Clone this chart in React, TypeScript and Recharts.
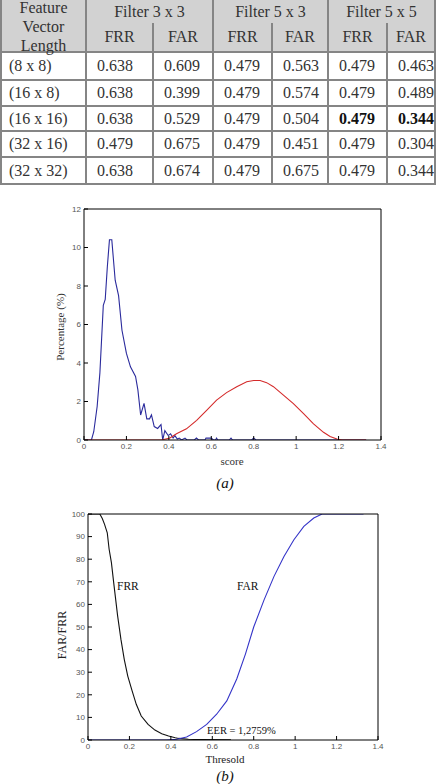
import React from 'react';
import { LineChart, Line, XAxis, YAxis, ReferenceDot } from 'recharts';

// ---------- Table data ----------
const vectorLengths = ['(8 x 8)', '(16 x 8)', '(16 x 16)', '(32 x 16)', '(32 x 32)'];
const filterNames = ['Filter 3 x 3', 'Filter 5 x 3', 'Filter 5 x 5'];
const subHeaders = ['FRR', 'FAR'];
const frr33 = [0.638, 0.638, 0.638, 0.479, 0.638];
const far33 = [0.609, 0.399, 0.529, 0.675, 0.674];
const frr53 = [0.479, 0.479, 0.479, 0.479, 0.479];
const far53 = [0.563, 0.574, 0.504, 0.451, 0.675];
const frr55 = [0.479, 0.479, 0.479, 0.479, 0.479];
const far55 = [0.463, 0.489, 0.344, 0.304, 0.344];
const boldRow = 2;

// ---------- Chart (a): score distributions ----------
const genuineX = [0, 0.035, 0.046, 0.062, 0.075, 0.091, 0.1, 0.11, 0.12, 0.131, 0.147, 0.163, 0.179, 0.2, 0.219, 0.243, 0.254, 0.267, 0.283, 0.296, 0.309, 0.318, 0.331, 0.347, 0.363, 0.371, 0.381, 0.397, 0.408, 0.42, 0.428, 0.44, 0.449, 0.46, 0.476, 0.485, 0.52, 0.53, 0.54, 0.57, 0.575, 0.6, 0.61, 0.62, 0.625, 0.63, 0.685, 0.693, 0.7, 0.79, 0.8, 0.81, 1.33];
const genuineY = [0, 0, 0.43, 1.74, 3.5, 7.0, 7.3, 9.0, 10.4, 10.4, 8.3, 7.5, 5.7, 4.5, 3.8, 3.3, 2.6, 1.3, 1.9, 1.1, 1.1, 1.3, 0.7, 0.6, 0.8, 0, 0.49, 0.23, 0.32, 0.1, 0.23, 0.05, 0.1, 0, 0.1, 0, 0, 0.1, 0, 0, 0.1, 0.1, 0, 0, 0.1, 0, 0, 0.1, 0, 0, 0.1, 0, 0];
const impostorX = [0, 0.334, 0.365, 0.405, 0.436, 0.483, 0.531, 0.578, 0.625, 0.672, 0.72, 0.767, 0.8, 0.83, 0.861, 0.893, 0.94, 0.987, 1.035, 1.082, 1.129, 1.16, 1.192, 1.216, 1.33];
const impostorY = [0, 0, 0, 0.1, 0.32, 0.58, 1.02, 1.54, 2.07, 2.46, 2.77, 3.03, 3.09, 3.09, 2.98, 2.77, 2.33, 1.89, 1.37, 0.84, 0.4, 0.18, 0.05, 0, 0];
const scoreTicks = [0, 0.2, 0.4, 0.6, 0.8, 1, 1.2, 1.4];
const percentTicks = [0, 2, 4, 6, 8, 10, 12];

// ---------- Chart (b): FAR / FRR ----------
const frrX = [0, 0.057, 0.069, 0.08, 0.093, 0.102, 0.113, 0.126, 0.143, 0.159, 0.175, 0.192, 0.213, 0.233, 0.257, 0.29, 0.323, 0.356, 0.389, 0.421, 0.437, 0.485, 0.55, 0.69];
const frrY = [100, 100, 98, 95.4, 91.7, 84.4, 78.5, 68.1, 54.9, 44.5, 35.7, 28.3, 21.7, 15.8, 10.6, 6.9, 4.4, 2.8, 1.8, 1.0, 0.7, 0.3, 0.15, 0.1];
const farX = [0, 0.38, 0.428, 0.476, 0.524, 0.573, 0.621, 0.67, 0.718, 0.76, 0.8, 0.85, 0.898, 0.946, 0.994, 1.042, 1.09, 1.13, 1.33];
const farY = [0, 0, 0.3, 1.3, 3.7, 6.9, 11.4, 17.3, 27, 38, 50, 62, 72.4, 81.2, 88.6, 94.5, 98.2, 100, 100];
const rateTicks = [0, 10, 20, 30, 40, 50, 60, 70, 80, 90, 100];
const annotations = [
  { x: 0.14, y: 68, text: 'FRR' },
  { x: 0.719, y: 68, text: 'FAR' },
  { x: 0.575, y: 4.2, text: 'EER = 1,2759%' },
];

const zip = (xs: number[], ys: number[]) => xs.map((x, i) => ({ x, y: ys[i] }));

const serif = '"Liberation Serif", "Times New Roman", serif';
const sans = '"Liberation Sans", Arial, sans-serif';
const tickStyle = { fontSize: 8, fill: '#555', fontFamily: sans };

const colEdges = [0, 87, 154, 214, 273, 329, 388, 436];
const rowEdges = [53, 81, 107, 132, 158, 185];
const border = '2px solid #858585';

function Table() {
  const cells: React.ReactNode[] = [];
  const cellBase: React.CSSProperties = {
    position: 'absolute',
    boxSizing: 'border-box',
    display: 'flex',
    alignItems: 'center',
    fontFamily: serif,
    fontSize: 16,
    color: '#333',
  };
  cells.push(
    <div key="h0" style={{ ...cellBase, left: 0, top: 0, width: 87, height: 53, background: '#d2d2d2', borderLeft: border, borderRight: border, borderBottom: border, justifyContent: 'center', textAlign: 'center', lineHeight: '19px', paddingTop: 1 }}>
      <div>Feature<br />Vector<br />Length</div>
    </div>
  );
  filterNames.forEach((f, i) => {
    const l = colEdges[1 + i * 2];
    const r = colEdges[3 + i * 2];
    cells.push(
      <div key={'f' + i} style={{ ...cellBase, left: l, top: 0, width: r - l, height: 25, background: '#d2d2d2', borderRight: border, borderBottom: border, justifyContent: 'center' }}>{f}</div>
    );
    subHeaders.forEach((s, j) => {
      const sl = colEdges[1 + i * 2 + j];
      const sr = colEdges[2 + i * 2 + j];
      cells.push(
        <div key={'s' + i + j} style={{ ...cellBase, left: sl, top: 23, width: sr - sl, height: 30, background: '#d2d2d2', borderRight: border, borderBottom: border, justifyContent: 'center' }}>{s}</div>
      );
    });
  });
  const cols = [frr33, far33, frr53, far53, frr55, far55];
  vectorLengths.forEach((v, r) => {
    const top = rowEdges[r];
    const h = rowEdges[r + 1] - top;
    cells.push(
      <div key={'v' + r} style={{ ...cellBase, left: 0, top, width: 87, height: h, borderLeft: border, borderRight: border, borderBottom: border, paddingLeft: 7 }}>{v}</div>
    );
    cols.forEach((c, ci) => {
      const l = colEdges[ci + 1];
      const w = colEdges[ci + 2] - l;
      const bold = r === boldRow && ci >= 4;
      cells.push(
        <div key={'c' + r + '_' + ci} style={{ ...cellBase, left: l, top, width: w, height: h, borderRight: border, borderBottom: border, paddingLeft: 10, fontWeight: bold ? 'bold' : 'normal', color: bold ? '#111' : '#333' }}>{c[r].toFixed(3)}</div>
      );
    });
  });
  return <div style={{ position: 'absolute', left: 0, top: 0, width: 436, height: 190 }}>{cells}</div>;
}

function Txt({ x, y, children, size = 11, rotate = false, italic = false, color = '#222' }: any) {
  return (
    <div style={{ position: 'absolute', left: x, top: y, transform: `translate(-50%, -50%)${rotate ? ' rotate(-90deg)' : ''}`, whiteSpace: 'nowrap', fontFamily: serif, fontSize: size, fontStyle: italic ? 'italic' : 'normal', color, lineHeight: 1 }}>{children}</div>
  );
}

const fmt = (v: number) => String(v);

export default function App() {
  const genuine = zip(genuineX, genuineY);
  const impostor = zip(impostorX, impostorY);
  const frr = zip(frrX, frrY);
  const far = zip(farX, farY);
  return (
    <div style={{ position: 'absolute', left: 0, top: 0, width: 436, height: 784, background: '#fff', overflow: 'hidden' }}>
      <Table />
      <div style={{ position: 'absolute', left: 0, top: 200 }}>
        <LineChart width={436} height={290} margin={{ top: 9, right: 55, bottom: 30, left: 54 }}>
          <XAxis dataKey="x" type="number" domain={[0, 1.4]} ticks={scoreTicks} tickFormatter={fmt} allowDataOverflow height={20} tickSize={-4} tickMargin={7} tick={tickStyle} stroke="#000" />
          <XAxis xAxisId="top" orientation="top" dataKey="x" type="number" domain={[0, 1.4]} ticks={scoreTicks} mirror tick={false} height={1} tickSize={4} stroke="#000" />
          <YAxis dataKey="y" type="number" domain={[0, 12]} ticks={percentTicks} allowDataOverflow width={30} tickSize={-4} tickMargin={7} tick={tickStyle} stroke="#000" />
          <YAxis yAxisId="right" orientation="right" type="number" domain={[0, 12]} ticks={percentTicks} mirror tick={false} width={1} tickSize={4} stroke="#000" />
          <Line data={genuine} dataKey="y" type="linear" stroke="#2a2a9c" strokeWidth={1.1} dot={false} isAnimationActive={false} />
          <Line data={impostor} dataKey="y" type="linear" stroke="#d42a2a" strokeWidth={1.1} dot={false} isAnimationActive={false} />
        </LineChart>
      </div>
      <div style={{ position: 'absolute', left: 0, top: 490 }}>
        <LineChart width={436} height={294} margin={{ top: 24, right: 58, bottom: 24, left: 58 }}>
          <XAxis dataKey="x" type="number" domain={[0, 1.4]} ticks={scoreTicks} tickFormatter={fmt} allowDataOverflow height={20} tickSize={-4} tickMargin={7} tick={tickStyle} stroke="#000" />
          <XAxis xAxisId="top" orientation="top" dataKey="x" type="number" domain={[0, 1.4]} ticks={scoreTicks} mirror tick={false} height={1} tickSize={4} stroke="#000" />
          <YAxis dataKey="y" type="number" domain={[0, 100]} ticks={rateTicks} allowDataOverflow width={30} tickSize={-4} tickMargin={7} tick={tickStyle} stroke="#000" />
          <YAxis yAxisId="right" orientation="right" type="number" domain={[0, 100]} ticks={rateTicks} mirror tick={false} width={1} tickSize={4} stroke="#000" />
          <Line data={frr} dataKey="y" type="linear" stroke="#111" strokeWidth={1.1} dot={false} isAnimationActive={false} />
          <Line data={far} dataKey="y" type="linear" stroke="#3434c8" strokeWidth={1.1} dot={false} isAnimationActive={false} />
          {annotations.map((a) => (
            <ReferenceDot key={a.text} x={a.x} y={a.y} r={0} shape={(p: any) => (
              <text x={p.cx} y={p.cy} dominantBaseline="central" fontFamily={serif} fontSize={a.text.length > 3 ? 10.5 : 11.5} fill="#111">{a.text}</text>
            )} />
          ))}
        </LineChart>
      </div>
      <Txt x={60} y={327} rotate size={11} color="#333">Percentage (%)</Txt>
      <Txt x={232} y={461} size={11} color="#333">score</Txt>
      <Txt x={225} y={483} size={15} italic color="#111">(a)</Txt>
      <Txt x={62} y={635} rotate size={12} color="#222">FAR/FRR</Txt>
      <Txt x={225} y={759} size={11} color="#222">Thresold</Txt>
      <Txt x={225} y={776} size={15} italic color="#111">(b)</Txt>
    </div>
  );
}
